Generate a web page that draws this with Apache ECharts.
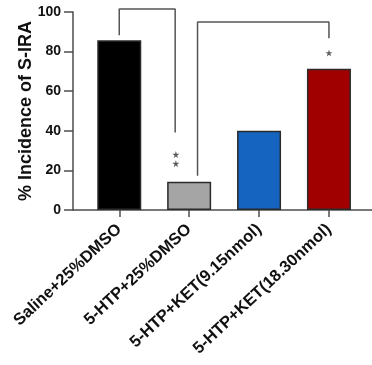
<!DOCTYPE html>
<html><head><meta charset="utf-8">
<script src="https://cdn.jsdelivr.net/npm/echarts@6/dist/echarts.min.js"></script>
<style>html,body{margin:0;padding:0;background:#fff}#c{width:372px;height:365px}</style>
</head><body><div id="c"></div>
<script>
const categories = ['Saline+25%DMSO', '5-HTP+25%DMSO', '5-HTP+KET(9.15nmol)', '5-HTP+KET(18.30nmol)'];
const incidence = [85.7, 14.3, 40, 71.4];
const barColors = ['#000000', '#a5a5a5', '#1565c0', '#a10000'];
const yTicks = [0, 20, 40, 60, 80, 100];
// significance brackets in data units: x in category-position units (category i centre = i + 0.5), y in %
const bracket1 = [[0.5, 88.2], [0.5, 101.5], [1.30, 101.5], [1.30, 39.1]];
const bracket2 = [[1.62, 17.3], [1.62, 94.9], [3.5, 94.9], [3.5, 86.8]];
const stars = [[1.31, 28.0], [1.31, 23.4], [3.5, 79.3]];

const FONT = 'Liberation Sans, Arial, sans-serif';
const AX = '#4d4d4d';
const STAR = 'path://M50,0 L61,35 L98,35 L68,57 L79,91 L50,70 L21,91 L32,57 L2,35 L39,35 Z';

const chart = echarts.init(document.getElementById('c'), null, {renderer: 'canvas'});
chart.setOption({
  animation: false,
  backgroundColor: '#fff',
  grid: [
    {left: 73, right: 0, top: 12, bottom: 155},
    {left: 84.3, right: 8.1, top: 12, bottom: 155}
  ],
  xAxis: [
    {gridIndex: 0, type: 'value', min: 0, max: 1, axisLine: {show: true, onZero: false, lineStyle: {color: AX, width: 1.5}},
     axisTick: {show: false}, axisLabel: {show: false}, splitLine: {show: false}},
    {gridIndex: 1, type: 'category', data: categories, axisLine: {show: false},
     axisTick: {show: true, alignWithLabel: true, length: 7, lineStyle: {color: AX, width: 1.5}},
     axisLabel: {rotate: 43, margin: 17, fontSize: 16.5, fontWeight: 'bold', color: '#111', fontFamily: FONT, interval: 0},
     splitLine: {show: false}},
    {gridIndex: 1, type: 'value', min: 0, max: 4, show: false}
  ],
  yAxis: [
    {gridIndex: 0, type: 'value', min: 0, max: 100, interval: 20,
     name: '% Incidence of S-IRA', nameLocation: 'middle', nameGap: 38, nameMoveOverlap: false,
     nameTextStyle: {fontSize: 18, fontWeight: 'bold', color: '#111', fontFamily: FONT},
     axisLine: {show: true, lineStyle: {color: AX, width: 1.5}},
     axisTick: {show: true, length: 9, lineStyle: {color: AX, width: 1.5}},
     axisLabel: {margin: 12, fontSize: 14, fontWeight: 'bold', color: '#111', fontFamily: FONT,
       formatter: v => yTicks.includes(v) ? String(v) : ''},
     splitLine: {show: false}},
    {gridIndex: 1, type: 'value', min: 0, max: 100, show: false}
  ],
  series: [
    {type: 'bar', xAxisIndex: 1, yAxisIndex: 1, barWidth: 44,
     data: incidence.map((v, i) => ({value: v, itemStyle: {color: barColors[i]}})),
     itemStyle: {borderColor: '#2b2b2b', borderWidth: 1.5}},
    {type: 'line', xAxisIndex: 2, yAxisIndex: 1, data: bracket1, symbol: 'none', clip: false,
     lineStyle: {color: '#555', width: 1.5}},
    {type: 'line', xAxisIndex: 2, yAxisIndex: 1, data: bracket2, symbol: 'none', clip: false,
     lineStyle: {color: '#555', width: 1.5}},
    {type: 'scatter', xAxisIndex: 2, yAxisIndex: 1, data: stars, symbol: STAR, symbolSize: 7, clip: false,
     itemStyle: {color: '#333'}}
  ]
});
</script></body></html>
